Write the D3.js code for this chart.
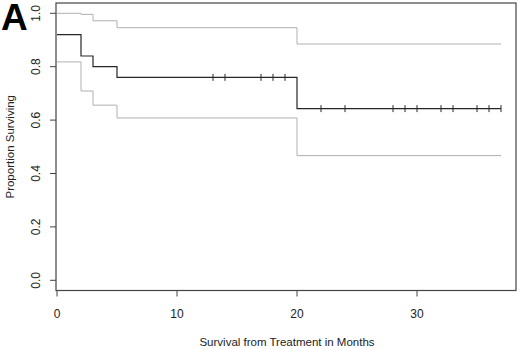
<!DOCTYPE html>
<html>
<head>
<meta charset="utf-8">
<script src="https://cdn.jsdelivr.net/npm/d3@7"></script>
<style>
  html, body { margin: 0; padding: 0; background: #fff; }
  svg { display: block; font-family: "Liberation Sans", Arial, sans-serif; }
</style>
</head>
<body>
<svg id="chart" width="520" height="349"></svg>
<script>
// ---- data ----
const stepTimes   = [0, 2, 3, 5, 20];          // months at which the curve steps
const survival    = [0.92, 0.84, 0.80, 0.76, 0.643];
const upperCI     = [1.0, 0.996, 0.972, 0.946, 0.885];
const lowerCI     = [0.818, 0.709, 0.656, 0.608, 0.467];
const endTime     = 37;
const censorTimes = [13, 14, 17, 18, 19, 22, 24, 28, 29, 30, 32, 33, 35, 36, 37];
const xTicks      = [0, 10, 20, 30];
const yTicks      = [0.0, 0.2, 0.4, 0.6, 0.8, 1.0];
const panelLabel  = "A";
const xTitle      = "Survival from Treatment in Months";
const yTitle      = "Proportion Surviving";

// ---- layout ----
const svg = d3.select("#chart");
const frame = {left: 56, right: 516, top: 3, bottom: 290.5};
const x = d3.scaleLinear().domain([0, 38.25]).range([57, 516]);
const y = d3.scaleLinear().domain([0, 1]).range([280.3, 13.3]);

const darkCol = "#262626";
const greyCol = "#b0b0b0";

// frame box
svg.append("rect")
  .attr("x", frame.left).attr("y", frame.top)
  .attr("width", frame.right - frame.left).attr("height", frame.bottom - frame.top)
  .attr("fill", "none").attr("stroke", "#444").attr("stroke-width", 1.2);

// y axis
const yAxisG = svg.append("g").attr("transform", `translate(${frame.left},0)`);
yAxisG.selectAll("line.tick").data(yTicks).join("line")
  .attr("x1", 0).attr("x2", -6)
  .attr("y1", d => y(d)).attr("y2", d => y(d))
  .attr("stroke", "#444").attr("stroke-width", 1);
yAxisG.selectAll("text").data(yTicks).join("text")
  .attr("transform", d => `translate(-16,${y(d)}) rotate(-90)`)
  .attr("text-anchor", "middle")
  .attr("font-size", 12)
  .attr("fill", "#222")
  .text(d => d3.format(".1f")(d));

// x axis
const xAxisG = svg.append("g").attr("transform", `translate(0,${frame.bottom})`);
xAxisG.selectAll("line.tick").data(xTicks).join("line")
  .attr("x1", d => x(d)).attr("x2", d => x(d))
  .attr("y1", 0).attr("y2", 6)
  .attr("stroke", "#444").attr("stroke-width", 1);
xAxisG.selectAll("text").data(xTicks).join("text")
  .attr("x", d => x(d)).attr("y", 27)
  .attr("text-anchor", "middle")
  .attr("font-size", 12)
  .attr("fill", "#222")
  .text(d => d);

// titles
svg.append("text")
  .attr("x", (frame.left + frame.right) / 2 + 1).attr("y", 346)
  .attr("text-anchor", "middle").attr("font-size", 11.5).attr("fill", "#222")
  .text(xTitle);
svg.append("text")
  .attr("transform", `translate(14,${(frame.top + frame.bottom) / 2}) rotate(-90)`)
  .attr("text-anchor", "middle").attr("font-size", 11.5).attr("fill", "#222")
  .text(yTitle);

// panel label
svg.append("text")
  .attr("x", 1).attr("y", 30)
  .attr("font-size", 37).attr("font-weight", "bold").attr("fill", "#000")
  .text(panelLabel);

// step curves
const toPts = vals => {
  const pts = stepTimes.map((t, i) => [t, vals[i]]);
  pts.push([endTime, vals[vals.length - 1]]);
  return pts;
};
const stepLine = d3.line().x(d => x(d[0])).y(d => y(d[1])).curve(d3.curveStepAfter);

svg.append("path").attr("d", stepLine(toPts(upperCI)))
  .attr("fill", "none").attr("stroke", greyCol).attr("stroke-width", 1);
svg.append("path").attr("d", stepLine(toPts(lowerCI)))
  .attr("fill", "none").attr("stroke", greyCol).attr("stroke-width", 1);
svg.append("path").attr("d", stepLine(toPts(survival)))
  .attr("fill", "none").attr("stroke", darkCol).attr("stroke-width", 1.2);

// censor marks
const survAt = t => {
  let v = survival[0];
  stepTimes.forEach((s, i) => { if (t >= s) v = survival[i]; });
  return v;
};
svg.append("g").selectAll("line").data(censorTimes).join("line")
  .attr("x1", d => x(d)).attr("x2", d => x(d))
  .attr("y1", d => y(survAt(d)) - 3.5).attr("y2", d => y(survAt(d)) + 3.5)
  .attr("stroke", darkCol).attr("stroke-width", 1);
</script>
</body>
</html>
